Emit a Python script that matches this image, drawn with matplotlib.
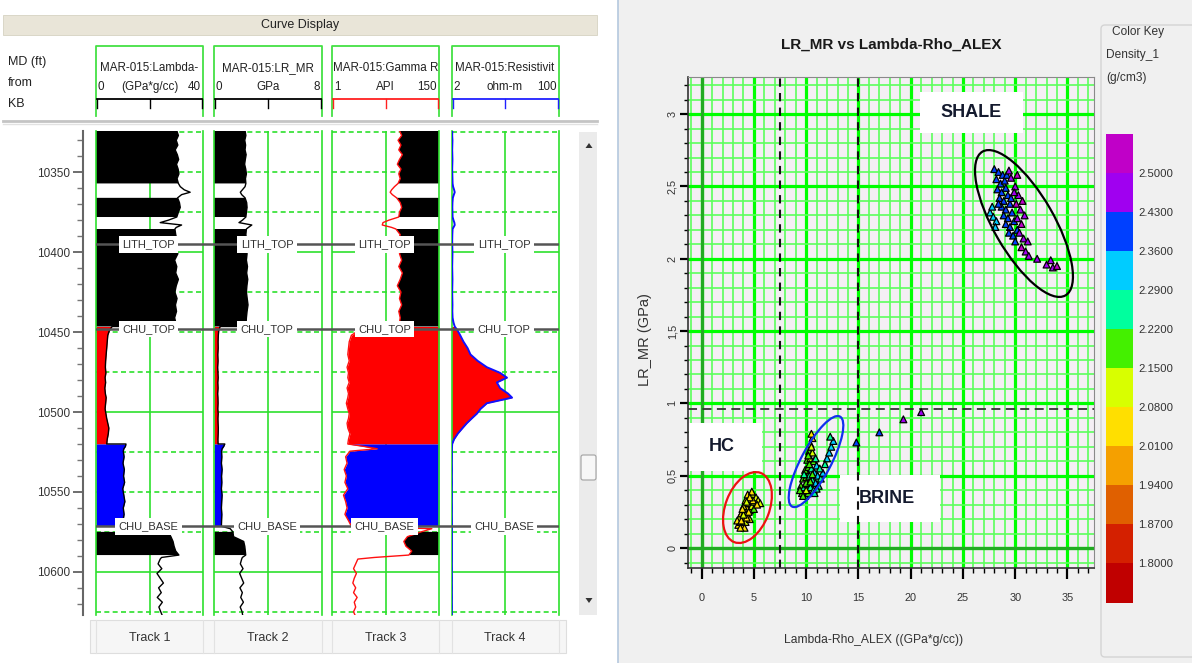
import numpy as np
import matplotlib
matplotlib.use("Agg")
import matplotlib.pyplot as plt
import matplotlib.colorbar as mcolorbar
from matplotlib.patches import Rectangle, FancyBboxPatch, Polygon, Circle
from matplotlib.colors import ListedColormap, BoundaryNorm
from matplotlib.ticker import FixedLocator, MultipleLocator, NullLocator
from matplotlib.transforms import Affine2D

plt.rcParams['font.family'] = ['Liberation Sans', 'DejaVu Sans']

W, H = 1192, 663

# ---------------- well log data (depth in ft, MD from KB) ----------------
# zone codes: S = shale (black fill), H = hydrocarbon (red), B = brine (blue), N = no fill
DEPTH_FT = [10324, 10327, 10330, 10333, 10336, 10339, 10342, 10345, 10348, 10351, 10354, 10357,
            10357, 10359, 10361, 10362.5, 10364, 10366,
            10366, 10369, 10372, 10375, 10378,
            10378, 10380, 10381.5, 10383, 10384.5, 10385.5,
            10385.5, 10389, 10393, 10397, 10401, 10405, 10409, 10413, 10417, 10421, 10425, 10429,
            10433, 10437, 10441, 10444, 10446.5,
            10446.5, 10449, 10452, 10456, 10460, 10464, 10468, 10472, 10475.5, 10478.5, 10481.5,
            10485, 10488.5, 10491, 10494.5, 10498, 10501, 10504, 10507, 10510, 10513.5, 10517, 10520,
            10520, 10521.5, 10523, 10524.5, 10528, 10532, 10536, 10540, 10544, 10548, 10552, 10556,
            10560, 10564, 10568, 10571.5,
            10571.5, 10573, 10575,
            10575, 10578, 10581, 10584, 10587, 10589.5,
            10589.5, 10591, 10592, 10595, 10598, 10601, 10604, 10607, 10610, 10613, 10616, 10619,
            10622, 10625, 10627]
ZONE = (['S'] * 12 + ['N'] * 6 + ['S'] * 5 + ['N'] * 6 + ['S'] * 17 + ['H'] * 23
        + ['B'] * 16 + ['N'] * 3 + ['S'] * 6 + ['N'] * 15)
LAMBDA_RHO = [30.2, 30.8, 30.0, 30.6, 29.6, 30.4, 30.9, 30.1, 30.7, 31.0, 30.3, 30.8,
              30.8, 31.5, 33.0, 35.2, 32.0, 30.5,
              30.5, 31.2, 31.5, 30.8, 30.2,
              30.2, 27.0, 24.0, 32.0, 30.0, 29.5,
              29.5, 29.8, 30.4, 29.6, 30.6, 29.4, 30.2, 29.8, 30.8, 30.0, 29.5, 30.3,
              29.7, 30.1, 29.4, 29.8, 29.0,
              6.0, 5.0, 4.4, 4.2, 4.0, 3.8, 3.6, 3.5, 3.7, 3.4, 3.6,
              3.3, 3.5, 3.8, 3.6, 3.4, 3.7, 4.0, 4.4, 4.8, 4.6, 4.2, 4.0,
              11.2, 11.0, 10.4, 10.2, 10.5, 10.1, 10.6, 10.3, 10.7, 10.0, 10.4, 10.8,
              10.2, 10.5, 10.1, 9.9,
              9.9, 22.0, 27.0,
              27.0, 28.0, 28.8, 29.2, 29.8, 31.0,
              31.0, 24.5, 24.0, 23.2, 24.6, 22.8, 24.0, 25.2, 23.4, 24.4, 22.9, 24.8,
              23.5, 24.2, 24.7]
LR_MR = [2.30, 2.36, 2.28, 2.34, 2.30, 2.38, 2.32, 2.27, 2.35, 2.40, 2.33, 2.36,
         2.36, 2.30, 2.10, 1.95, 2.05, 2.30,
         2.30, 2.42, 2.45, 2.40, 2.36,
         2.36, 2.10, 1.85, 2.80, 2.55, 2.40,
         2.40, 2.36, 2.42, 2.35, 2.45, 2.40, 2.48, 2.42, 2.50, 2.44, 2.40, 2.46,
         2.52, 2.45, 2.40, 2.38, 2.30,
         0.45, 0.35, 0.32, 0.30, 0.31, 0.28, 0.30, 0.27, 0.29, 0.31, 0.28,
         0.30, 0.27, 0.29, 0.30, 0.28, 0.31, 0.29, 0.30, 0.32, 0.31, 0.29, 0.30,
         0.80, 0.72, 0.60, 0.56, 0.58, 0.55, 0.60, 0.56, 0.58, 0.55, 0.60, 0.57,
         0.55, 0.58, 0.56, 0.55,
         0.55, 1.20, 1.40,
         1.40, 1.45, 2.20, 2.28, 2.32, 2.35,
         2.35, 2.10, 2.05, 1.95, 2.15, 1.90, 2.05, 2.20, 1.92, 2.10, 1.98, 2.18,
         1.94, 2.08, 2.12]
GAMMA_RAY = [95, 98, 93, 97, 94, 99, 95, 92, 97, 94, 96, 93,
             93, 88, 84, 82, 85, 91,
             91, 96, 98, 95, 94,
             94, 80, 72, 71, 84, 90,
             90, 96, 93, 97, 95, 98, 94, 99, 96, 92, 97, 95,
             98, 94, 96, 95, 94,
             45, 38, 28, 25, 24, 23, 25, 22, 24, 23, 25,
             22, 24, 23, 21, 23, 25, 24, 22, 23, 26, 24, 23,
             23, 45, 64, 26, 20, 22, 18, 21, 19, 23, 17, 20,
             22, 19, 24, 28,
             28, 140, 125,
             125, 106, 101, 104, 112, 108,
             108, 60, 37, 34, 31, 35, 32, 30, 34, 31, 36, 32,
             34, 31, 33]
RESISTIVITY = [2.06, 2.05, 2.07, 2.06, 2.05, 2.06, 2.07, 2.06, 2.05, 2.06, 2.07, 2.08,
               2.08, 2.12, 2.20, 2.25, 2.18, 2.10,
               2.10, 2.07, 2.06, 2.07, 2.08,
               2.08, 2.15, 2.22, 2.25, 2.15, 2.08,
               2.08, 2.06, 2.05, 2.06, 2.07, 2.06, 2.05, 2.06, 2.07, 2.06, 2.05, 2.06,
               2.07, 2.06, 2.08, 2.15, 2.25,
               2.25, 2.50, 2.75, 3.10, 3.60, 4.00, 5.20, 7.30, 11.8, 15.2, 10.5,
               11.8, 15.8, 18.3, 7.3, 5.8, 5.06, 4.2, 3.5, 3.0, 2.52, 2.2, 2.05,
               2.05, 2.04, 2.03, 2.03, 2.03, 2.02, 2.03, 2.02, 2.03, 2.02, 2.03, 2.02,
               2.03, 2.02, 2.03, 2.03,
               2.03, 2.03, 2.03,
               2.03, 2.03, 2.03, 2.03, 2.03, 2.03,
               2.03, 2.03, 2.03, 2.02, 2.03, 2.02, 2.03, 2.02, 2.03, 2.02, 2.03, 2.02,
               2.03, 2.02, 2.03]

TOP_NAMES = ['LITH_TOP', 'CHU_TOP', 'CHU_BASE']
TOP_DEPTHS = [10395, 10448, 10571.5]
DEPTH_TOP, DEPTH_BOT = 10324, 10627

TRACK_NAMES = ['MAR-015:Lambda-', 'MAR-015:LR_MR', 'MAR-015:Gamma R', 'MAR-015:Resistivit']
TRACK_MIN = [0, 0, 1, 2]
TRACK_MAX = [40, 8, 150, 100]
TRACK_UNITS = ['(GPa*g/cc)', 'GPa', 'API', 'ohm-m']
TRACK_FOOT = ['Track 1', 'Track 2', 'Track 3', 'Track 4']

# ---------------- crossplot data ----------------
# HC cluster, brine cluster, stray points, shale cluster
XP_LAMBDA_RHO = [3.5, 3.7, 3.9, 3.6, 4.0, 4.2, 3.8, 4.1, 4.4, 4.3, 4.6, 4.0, 4.5, 4.8, 4.2, 4.7,
                 5.0, 4.4, 4.9, 5.2, 5.4, 5.0, 3.4, 4.6, 5.6, 4.1, 4.8,
                 3.8, 4.3, 4.5, 4.0, 3.7, 4.9, 4.6, 5.3, 4.3, 3.9,
                 9.6, 9.9, 10.2, 9.5, 9.8, 10.1, 10.4, 10.7, 9.7, 10.0, 10.3, 10.6, 10.9, 11.2,
                 9.9, 10.2, 10.5, 10.8, 11.1, 11.4, 10.1, 10.4, 10.7, 11.0, 10.3, 10.6, 10.4,
                 10.6, 10.5, 11.6, 11.3, 12.0, 12.2, 12.4, 12.6, 12.3, 11.8, 9.4, 10.0, 10.8,
                 10.0, 10.4, 9.8, 10.6, 10.3, 10.9, 10.2, 11.0, 9.7, 10.5,
                 14.8, 17.0, 19.3, 21.0,
                 28.0, 28.4, 28.8, 28.2, 28.6, 29.0, 28.3, 28.7, 29.1, 28.5, 28.9, 29.3, 28.7,
                 29.1, 29.5, 28.9, 29.3, 29.7, 29.1, 29.5, 29.9, 29.4, 29.8, 30.2, 30.0, 29.6,
                 29.2, 28.4,
                 29.6, 30.0, 30.3, 30.1, 30.5, 30.2, 30.6, 30.4, 30.8, 30.6, 31.0, 31.3, 29.9,
                 30.7, 30.9, 31.2, 32.1, 33.0, 33.6, 33.4, 34.0, 29.4, 30.2,
                 27.6, 27.9, 28.2, 27.8, 28.1]
XP_LR_MR = [0.16, 0.18, 0.15, 0.21, 0.20, 0.18, 0.24, 0.25, 0.22, 0.28, 0.26, 0.29, 0.31, 0.29,
            0.33, 0.34, 0.32, 0.37, 0.37, 0.35, 0.33, 0.27, 0.19, 0.20, 0.31, 0.14, 0.39,
            0.19, 0.21, 0.25, 0.23, 0.14, 0.33, 0.35, 0.30, 0.32, 0.27,
            0.38, 0.36, 0.38, 0.43, 0.42, 0.44, 0.42, 0.40, 0.48, 0.49, 0.50, 0.47, 0.45, 0.43,
            0.54, 0.56, 0.55, 0.52, 0.50, 0.48, 0.61, 0.62, 0.60, 0.57, 0.67, 0.66, 0.72,
            0.76, 0.79, 0.52, 0.55, 0.62, 0.66, 0.70, 0.74, 0.77, 0.58, 0.40, 0.40, 0.38,
            0.45, 0.46, 0.51, 0.51, 0.58, 0.62, 0.64, 0.41, 0.36, 0.70,
            0.73, 0.80, 0.89, 0.94,
            2.62, 2.60, 2.58, 2.55, 2.52, 2.54, 2.48, 2.46, 2.49, 2.42, 2.40, 2.44, 2.36,
            2.34, 2.38, 2.30, 2.28, 2.32, 2.24, 2.22, 2.26, 2.18, 2.16, 2.20, 2.12, 2.42,
            2.58, 2.38,
            2.56, 2.50, 2.44, 2.38, 2.34, 2.28, 2.24, 2.18, 2.14, 2.08, 2.05, 2.02, 2.46,
            2.40, 2.30, 2.12, 2.00, 1.96, 1.94, 1.99, 1.95, 2.61, 2.58,
            2.32, 2.29, 2.26, 2.36, 2.22]
XP_DENSITY = [2.05, 2.07, 2.04, 2.08, 2.06, 2.09, 2.03, 2.10, 2.05, 2.07, 2.12, 2.02, 2.06, 2.11,
              2.04, 2.08, 2.13, 2.05, 2.09, 2.14, 2.10, 2.16, 2.01, 2.07, 2.12, 2.03, 2.06,
              2.06, 2.02, 2.04, 2.09, 2.05, 2.03, 2.07, 2.05, 2.11, 2.04,
              2.20, 2.22, 2.18, 2.16, 2.24, 2.19, 2.26, 2.28, 2.21, 2.17, 2.23, 2.25, 2.30, 2.27,
              2.20, 2.15, 2.22, 2.29, 2.31, 2.26, 2.18, 2.14, 2.21, 2.33, 2.16, 2.12, 2.10,
              2.05, 2.03, 2.30, 2.28, 2.30, 2.32, 2.30, 2.31, 2.27, 2.26, 2.19, 2.13, 2.24,
              2.20, 2.18, 2.22, 2.21, 2.19, 2.24, 2.15, 2.27, 2.19, 2.11,
              2.38, 2.38, 2.45, 2.47,
              2.38, 2.40, 2.39, 2.41, 2.37, 2.40, 2.38, 2.42, 2.39, 2.41, 2.37, 2.40, 2.38,
              2.42, 2.39, 2.40, 2.37, 2.41, 2.39, 2.38, 2.42, 2.40, 2.38, 2.41, 2.39, 2.37,
              2.40, 2.38,
              2.46, 2.48, 2.45, 2.51, 2.47, 2.49, 2.52, 2.46, 2.48, 2.50, 2.47, 2.49, 2.45,
              2.51, 2.48, 2.46, 2.47, 2.49, 2.46, 2.48, 2.50, 2.47, 2.52,
              2.32, 2.31, 2.34, 2.33, 2.30]

DENSITY_BOUNDS = [1.73, 1.80, 1.87, 1.94, 2.01, 2.08, 2.15, 2.22, 2.29, 2.36, 2.43, 2.50, 2.57]
DENSITY_COLORS = ['#c00000', '#d42000', '#e06000', '#f5a000', '#ffdf00', '#d8ff00',
                  '#44f000', '#00ff9e', '#00ccff', '#0040ff', '#a000f0', '#c000c8']

X_TICKS = [0, 5, 10, 15, 20, 25, 30, 35]
Y_TICKS = [0, 0.5, 1, 1.5, 2, 2.5, 3]
Y_TICK_LABELS = ['0', '0,5', '1', '1,5', '2', '2,5', '3']
LR_CUTOFFS = [7.5, 15]
MR_CUTOFF = 0.96

# ellipse: centre x, centre y, half-axis vector u, half-axis vector v (data units), colour
ELLIPSES = [(30.84, 2.244, -3.97, 0.497, 2.49, 0.104, 'black'),
            (4.38, 0.280, 1.27, 0.239, 1.96, -0.0546, '#ee1111'),
            (10.94, 0.598, 2.29, 0.311, 1.26, -0.0484, '#1030ee')]

GRID_G = '#2ee02e'

fig = plt.figure(figsize=(W / 100, H / 100), dpi=100)


def pax(x0, y0, x1, y1):
    # axes placed in screen pixels (top-left origin)
    return fig.add_axes([x0 / W, 1 - y1 / H, (x1 - x0) / W, (y1 - y0) / H])


# ---------------- background / window chrome ----------------
bg = pax(0, 0, W, H)
bg.set_xlim(0, W)
bg.set_ylim(H, 0)
bg.axis('off')
bg.add_patch(Rectangle((618, 0), W - 618, H, fc='#f0f0f0', ec='none'))
bg.plot([618, 618], [0, H], color='#b4c8de', lw=1.2)

bg.add_patch(Rectangle((3, 15), 594, 20, fc='#e9e5d8', ec='#d6d2c2', lw=0.6))
bg.text(300, 25, 'Curve Display', fontsize=9, ha='center', va='center', color='#222222')
bg.plot([3, 597], [121, 121], color='#c4c4c4', lw=2)
bg.plot([3, 597], [124, 124], color='#e2e2e2', lw=1)

for txt, yy in zip(['MD (ft)', 'from', 'KB'], [62, 83, 104]):
    bg.text(8, yy, txt, fontsize=9, ha='left', va='center', color='#222222')

TRACK_PX = [(96, 203), (214, 322), (332, 439), (451.5, 558.5)]
LINE_COLORS = ['black', 'black', '#ff2020', '#2020ff']
for i, (x0, x1) in enumerate(TRACK_PX):
    cx = (x0 + x1) / 2
    bg.plot([x0, x0, x1, x1], [116, 46, 46, 116], color='#44e044', lw=1.3)
    bg.text(cx, 68, TRACK_NAMES[i], fontsize=8.4, ha='center', va='center', color='#222222')
    bg.text(x0 + 2, 87, str(TRACK_MIN[i]), fontsize=8.4, ha='left', va='center', color='#222222')
    bg.text(cx, 87, TRACK_UNITS[i], fontsize=8.4, ha='center', va='center', color='#222222')
    bg.text(x1 - 2, 87, str(TRACK_MAX[i]), fontsize=8.4, ha='right', va='center', color='#222222')
    bg.plot([x0 + 1, x1 - 1], [99, 99], color=LINE_COLORS[i], lw=1.3)
    for tx in (x0 + 1, cx, x1 - 1):
        bg.plot([tx, tx], [99, 108], color=LINE_COLORS[i], lw=1)

# footer
bg.add_patch(Rectangle((90, 620), 476, 33, fc='#f6f6f6', ec='#dedede', lw=0.8))
for i, (x0, x1) in enumerate(TRACK_PX):
    bg.plot([x0, x0], [620, 653], color='#e2e2e2', lw=0.8)
    bg.plot([x1, x1], [620, 653], color='#e2e2e2', lw=0.8)
    bg.text((x0 + x1) / 2, 638, TRACK_FOOT[i], fontsize=9, ha='center', va='center', color='#333333')

# scrollbar
bg.add_patch(Rectangle((579, 131.5), 18, 483.5, fc='#ebebeb', ec='none'))
bg.add_patch(Polygon([[585.5, 148], [592.5, 148], [589, 143]], closed=True, fc='#333333', ec='none'))
bg.add_patch(Polygon([[585.5, 598], [592.5, 598], [589, 603]], closed=True, fc='#333333', ec='none'))
bg.add_patch(FancyBboxPatch((581, 455), 15, 25, boxstyle='round,pad=0,rounding_size=2',
                            fc='#f7f7f7', ec='#a0a0a0', lw=0.8))

# colour key panel
bg.add_patch(FancyBboxPatch((1101, 25), 100, 632, boxstyle='round,pad=0,rounding_size=4',
                            fc='#f0f0f0', ec='#d4d4d4', lw=1))
bg.text(1112, 32, 'Color Key', fontsize=8.6, ha='left', va='center', color='#333333')
bg.text(1106, 55, 'Density_1', fontsize=8.6, ha='left', va='center', color='#333333')
bg.text(1106, 78, '(g/cm3)', fontsize=8.6, ha='left', va='center', color='#333333')

bg.text(891, 45, 'LR_MR vs Lambda-Rho_ALEX', fontsize=11, fontweight='bold', ha='center',
        va='center', color='#1a1a1a')
bg.text(645, 340, 'LR_MR (GPa)', fontsize=10.5, rotation=90, ha='center', va='center', color='#333333')
bg.text(874, 640, 'Lambda-Rho_ALEX ((GPa*g/cc))', fontsize=8.7, ha='center', va='center', color='#333333')

# ---------------- log tracks ----------------
depth = np.array(DEPTH_FT)
zone = np.array(ZONE)
curves = [np.array(LAMBDA_RHO), np.array(LR_MR), np.array(GAMMA_RAY), np.array(RESISTIVITY)]
FILL_COLORS = {'S': 'black', 'H': '#ff0000', 'B': '#0000ff'}

for i, (x0, x1) in enumerate(TRACK_PX):
    ax = pax(x0, 130.7, x1, 615)
    lo, hi = TRACK_MIN[i], TRACK_MAX[i]
    if i == 3:
        ax.set_xscale('log')
    ax.set_xlim(lo, hi)
    ax.set_ylim(DEPTH_BOT, DEPTH_TOP)
    ax.xaxis.set_major_locator(NullLocator())
    ax.xaxis.set_minor_locator(NullLocator())
    ax.set_yticks([])
    for s in ('top', 'bottom'):
        ax.spines[s].set_visible(False)
    for s in ('left', 'right'):
        ax.spines[s].set_color(GRID_G)
        ax.spines[s].set_linewidth(1.2)
    mid = np.sqrt(lo * hi) if i == 3 else (lo + hi) / 2
    ax.axvline(mid, color=GRID_G, lw=1.2, zorder=0.5)
    for d in range(10325, 10626, 25):
        ax.axhline(d, color=GRID_G, lw=1.2, ls='-' if d % 100 == 0 else (0, (3, 2)), zorder=0.5)
    cv = curves[i]
    if i < 2:
        for code, col in FILL_COLORS.items():
            ax.fill_betweenx(depth, lo, cv, where=zone == code, color=col, lw=0, zorder=1)
        ax.plot(cv, depth, color='black', lw=1, zorder=2)
    elif i == 2:
        for code, col in FILL_COLORS.items():
            ax.fill_betweenx(depth, cv, hi, where=zone == code, color=col, lw=0, zorder=1)
        ax.plot(cv, depth, color='#ff1010', lw=1, zorder=2)
    else:
        ax.fill_betweenx(depth, lo, cv, where=zone == 'H', color='#ff0000', lw=0, zorder=1)
        ax.plot(cv, depth, color='#1010ff', lw=1.4, zorder=3)

# formation tops overlay
ov = pax(TRACK_PX[0][0], 130.7, TRACK_PX[3][1], 615)
ov.set_xlim(TRACK_PX[0][0], TRACK_PX[3][1])
ov.set_ylim(DEPTH_BOT, DEPTH_TOP)
ov.axis('off')
for name, d in zip(TOP_NAMES, TOP_DEPTHS):
    ov.axhline(d, color='#555555', lw=1.8, zorder=3)
    for (x0, x1) in TRACK_PX:
        ov.text((x0 + x1) / 2 - 1, d, name, fontsize=8, ha='center', va='center', color='#333333',
                zorder=4, bbox=dict(boxstyle='square,pad=0.3', fc='white', ec='none'))

# depth axis
axd = pax(83, 130.7, 96, 615)
axd.set_ylim(DEPTH_BOT, DEPTH_TOP)
axd.patch.set_alpha(0)
axd.set_xticks([])
for s in ('top', 'bottom', 'right'):
    axd.spines[s].set_visible(False)
axd.spines['left'].set_color('#666666')
axd.spines['left'].set_linewidth(1.5)
axd.yaxis.set_major_locator(MultipleLocator(50))
axd.yaxis.set_minor_locator(MultipleLocator(10))
axd.tick_params(axis='y', which='major', length=7.5, width=1.2, color='#555555', pad=1.5,
                labelsize=8.5, labelcolor='#333333')
axd.tick_params(axis='y', which='minor', length=4.3, width=1, color='#777777')

# ---------------- crossplot ----------------
cmap = ListedColormap(DENSITY_COLORS)
norm = BoundaryNorm(DENSITY_BOUNDS, cmap.N)

sc = pax(688, 76.7, 1094, 568)
sc.set_facecolor('#f4eff4')
sc.set_axisbelow(True)
sc.xaxis.set_major_locator(FixedLocator(X_TICKS))
sc.xaxis.set_minor_locator(MultipleLocator(1))
sc.yaxis.set_major_locator(FixedLocator(Y_TICKS))
sc.yaxis.set_minor_locator(MultipleLocator(0.1))
sc.set_xticklabels([str(t) for t in X_TICKS])
sc.set_yticklabels(Y_TICK_LABELS, rotation=90, va='center')
sc.grid(which='minor', color='#5cff5c', lw=1.2)
sc.grid(which='major', color='#00ff00', lw=2.3)
sc.axvline(0, color='#22aa22', lw=2.3, zorder=0.6)
sc.axhline(0, color='#22aa22', lw=2.3, zorder=0.6)
sc.tick_params(axis='x', which='major', direction='out', length=8, width=1.6, pad=10,
               labelsize=7.8, labelcolor='#333333')
sc.tick_params(axis='x', which='minor', direction='out', length=3.6, width=1)
sc.tick_params(axis='y', which='major', direction='out', length=5.8, width=1.6, pad=1.8,
               labelsize=7.8, labelcolor='#333333')
sc.tick_params(axis='y', which='minor', direction='out', length=2.9, width=1)
for s in ('top', 'right'):
    sc.spines[s].set_color('#8a8a8a')
    sc.spines[s].set_linewidth(0.8)
for s in ('left', 'bottom'):
    sc.spines[s].set_color('#333333')
    sc.spines[s].set_linewidth(1.2)

for xv in LR_CUTOFFS:
    sc.axvline(xv, color='#111111', lw=1.5, ls=(0, (4, 3)), zorder=2)
sc.axhline(MR_CUTOFF, color='#333333', lw=1.3, ls=(0, (5, 3)), zorder=2)

# label boxes
for (bx0, by0, bx1, by1), (tx, ty), lab in zip(
        [(20.9, 2.87, 30.75, 3.15), (-1.22, 0.532, 5.77, 0.864), (13.2, 0.18, 22.8, 0.505)],
        [(25.8, 3.01), (1.94, 0.70), (17.7, 0.34)],
        ['SHALE', 'HC', 'BRINE']):
    sc.add_patch(Rectangle((bx0, by0), bx1 - bx0, by1 - by0, fc='white', ec='none', zorder=1.5))
    sc.text(tx, ty, lab, fontsize=13, fontweight='bold', ha='center', va='center',
            color='#141a2e', zorder=5)

sc.scatter(XP_LAMBDA_RHO, XP_LR_MR, c=XP_DENSITY, cmap=cmap, norm=norm, marker='^', s=24,
           edgecolors='black', linewidths=0.9, zorder=3)

for cx, cy, ux, uy, vx, vy, col in ELLIPSES:
    tr = Affine2D(np.array([[ux, vx, cx], [uy, vy, cy], [0, 0, 1.0]])) + sc.transData
    sc.add_patch(Circle((0, 0), 1, transform=tr, fill=False, ec=col, lw=1.6, zorder=4))

sc.set_xlim(-1.31, 37.54)
sc.set_ylim(-0.138, 3.259)

# colour key
cax = pax(1106, 134, 1133, 602.5)
cb = mcolorbar.ColorbarBase(cax, cmap=cmap, norm=norm, boundaries=DENSITY_BOUNDS,
                            ticks=DENSITY_BOUNDS[1:-1], spacing='uniform')
cb.set_ticklabels(['%.4f' % v for v in DENSITY_BOUNDS[1:-1]])
cb.outline.set_visible(False)
cax.minorticks_off()
cax.tick_params(which='both', length=0, labelsize=8.2, pad=4, labelcolor='#333333')

fig.savefig('out.png', dpi=100)
